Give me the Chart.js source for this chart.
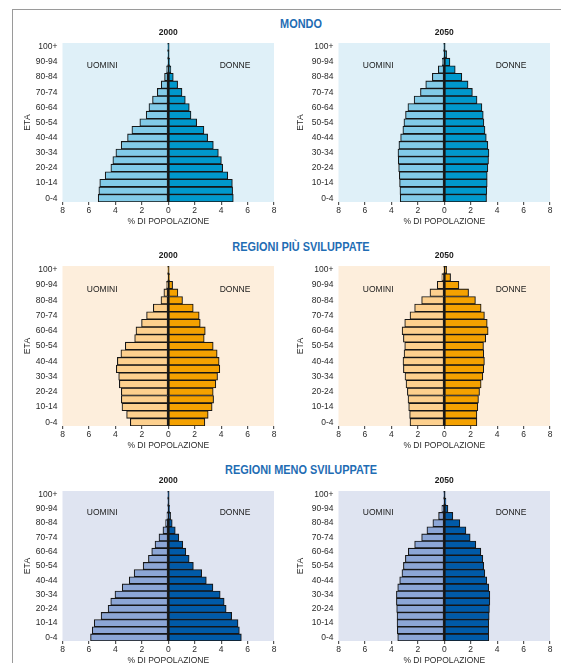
<!DOCTYPE html>
<html>
<head>
<meta charset="utf-8">
<script src="https://cdn.jsdelivr.net/npm/chart.js@4.4.1/dist/chart.umd.min.js"></script>
<style>
  body { margin: 0; background: #fff; }
  #page { position: relative; width: 561px; height: 663px; overflow: hidden; }
  #frame { position: absolute; left: 12px; top: 9px; right: -5px; bottom: -5px;
           border-left: 1px solid #9a9a9a; border-top: 1px solid #9a9a9a; }
  .region { position: absolute; left: 100px; width: 402px; text-align: center;
            font: bold 13px 'Liberation Sans', Arial, sans-serif;
            color: #1f6db4; line-height: 14px; transform: scaleX(0.84); }
  canvas { position: absolute; }
</style>
</head>
<body>
<div id="page">
  <div id="frame"></div>
  <div class="region" style="top:17px">MONDO</div>
  <div class="region" style="top:240px">REGIONI PIÙ SVILUPPATE</div>
  <div class="region" style="top:463px">REGIONI MENO SVILUPPATE</div>
  <canvas id="mondo2000"></canvas>
  <canvas id="mondo2050"></canvas>
  <canvas id="piu2000"></canvas>
  <canvas id="piu2050"></canvas>
  <canvas id="meno2000"></canvas>
  <canvas id="meno2050"></canvas>
</div>
<script>
const ageGroups = ['0-4', '5-9', '10-14', '15-19', '20-24', '25-29', '30-34', '35-39', '40-44', '45-49',
  '50-54', '55-59', '60-64', '65-69', '70-74', '75-79', '80-84', '85-89', '90-94', '95-99', '100+'];
const xTicks = [-8, -6, -4, -2, 0, 2, 4, 6, 8];

// % di popolazione, from 0-4 up to 100+
const mondo2000Men = [5.3, 5.25, 5.18, 4.77, 4.34, 4.19, 3.96, 3.56, 3.08, 2.75, 2.15, 1.67, 1.46, 1.19, 0.83, 0.53, 0.28, 0.13, 0.05, 0.03, 0.01];
const mondo2000Women = [4.92, 4.87, 4.85, 4.5, 4.12, 4.02, 3.79, 3.41, 2.98, 2.7, 2.15, 1.72, 1.59, 1.29, 1.04, 0.71, 0.38, 0.2, 0.1, 0.05, 0.02];
const mondo2050Men = [3.33, 3.35, 3.38, 3.4, 3.45, 3.48, 3.5, 3.43, 3.3, 3.13, 3.05, 2.93, 2.75, 2.28, 1.8, 1.4, 0.9, 0.45, 0.15, 0.05, 0.01];
const mondo2050Women = [3.2, 3.22, 3.25, 3.25, 3.3, 3.35, 3.38, 3.3, 3.18, 3.08, 3.0, 2.95, 2.85, 2.48, 2.13, 1.8, 1.33, 0.83, 0.43, 0.18, 0.05];
const piu2000Men = [2.87, 3.15, 3.5, 3.55, 3.55, 3.7, 3.75, 3.93, 3.85, 3.58, 3.25, 2.54, 2.44, 2.02, 1.64, 1.13, 0.55, 0.33, 0.13, 0.03, 0.01];
const piu2000Women = [2.77, 3.02, 3.32, 3.43, 3.4, 3.6, 3.73, 3.9, 3.85, 3.7, 3.4, 2.72, 2.8, 2.42, 2.34, 1.89, 1.08, 0.73, 0.33, 0.1, 0.03];
const piu2050Men = [2.59, 2.62, 2.69, 2.74, 2.79, 2.89, 2.97, 3.09, 3.12, 3.04, 2.99, 3.09, 3.19, 2.99, 2.59, 2.24, 1.71, 1.08, 0.53, 0.18, 0.05];
const piu2050Women = [2.47, 2.47, 2.54, 2.59, 2.67, 2.79, 2.92, 2.99, 3.04, 2.99, 2.97, 3.14, 3.32, 3.25, 3.04, 2.79, 2.36, 1.84, 1.11, 0.48, 0.18];
const meno2000Men = [5.88, 5.75, 5.6, 5.08, 4.55, 4.35, 4.03, 3.48, 2.95, 2.58, 1.9, 1.5, 1.25, 1.0, 0.7, 0.4, 0.2, 0.1, 0.05, 0.02, 0.01];
const meno2000Women = [5.53, 5.38, 5.28, 4.8, 4.38, 4.23, 3.93, 3.38, 2.88, 2.53, 1.9, 1.58, 1.33, 1.1, 0.8, 0.53, 0.3, 0.18, 0.1, 0.05, 0.02];
const meno2050Men = [3.52, 3.55, 3.57, 3.57, 3.6, 3.62, 3.62, 3.52, 3.37, 3.2, 3.09, 2.94, 2.72, 2.24, 1.71, 1.31, 0.86, 0.43, 0.18, 0.05, 0.02];
const meno2050Women = [3.37, 3.37, 3.37, 3.4, 3.42, 3.45, 3.45, 3.37, 3.22, 3.07, 2.99, 2.92, 2.77, 2.39, 1.96, 1.64, 1.18, 0.65, 0.28, 0.13, 0.05];

const FONT = "'Liberation Sans', Arial, sans-serif";
Chart.defaults.font.family = FONT;
Chart.defaults.color = '#2a2a2a';

const palettes = {
  mondo: { bg: '#dff0f8', men: '#82cbe8', women: '#0098cc' },
  piu: { bg: '#fdeedc', men: '#fdd08e', women: '#f4a100' },
  meno: { bg: '#dfe4f1', men: '#8ca6d6', women: '#005aa8' }
};

const plotBackground = {
  id: 'plotBackground',
  beforeDraw(chart, args, opts) {
    const { ctx, chartArea: a } = chart;
    ctx.save();
    ctx.fillStyle = opts.color;
    ctx.fillRect(a.left, a.top, a.right - a.left, a.bottom - a.top);
    ctx.restore();
  }
};

const pyramidLabels = {
  id: 'pyramidLabels',
  afterDraw(chart, args, opts) {
    const { ctx, chartArea: a, scales: { x } } = chart;
    ctx.save();
    ctx.fillStyle = '#1a1a1a';
    ctx.textAlign = 'center';
    ctx.textBaseline = 'middle';
    ctx.font = 'bold 8.5px ' + FONT;
    ctx.fillText(opts.year, x.getPixelForValue(0), a.top - 10);
    ctx.font = '8.5px ' + FONT;
    const y = a.top + (a.bottom - a.top) * 0.145;
    ctx.fillText('UOMINI', x.getPixelForValue(-5), y);
    ctx.fillText('DONNE', x.getPixelForValue(5.05), y);
    ctx.restore();
  }
};

const drawPyramid = (id, box, men, women, colors, year) => {
  const canvas = document.getElementById(id);
  const top = box.top - 20, left = box.left - box.yAxisWidth;
  const width = box.right + 7 - left, height = box.bottom + 25 - top;
  canvas.style.left = left + 'px';
  canvas.style.top = top + 'px';
  canvas.style.width = width + 'px';
  canvas.style.height = height + 'px';
  canvas.width = width;
  canvas.height = height;

  const barStyle = {
    borderColor: '#161616', borderWidth: 1.1, borderSkipped: false,
    barPercentage: 1, categoryPercentage: 1
  };

  new Chart(canvas, {
    type: 'bar',
    data: {
      labels: ageGroups,
      datasets: [
        { label: 'UOMINI', data: men.map(v => -v), backgroundColor: colors.men, ...barStyle },
        { label: 'DONNE', data: women, backgroundColor: colors.women, ...barStyle }
      ]
    },
    options: {
      indexAxis: 'y',
      responsive: false,
      animation: false,
      layout: { padding: { top: 20, right: 7, left: 0, bottom: 0 } },
      plugins: {
        legend: { display: false },
        tooltip: { enabled: false },
        plotBackground: { color: colors.bg },
        pyramidLabels: { year: year }
      },
      scales: {
        x: {
          stacked: true, min: xTicks[0], max: xTicks[xTicks.length - 1],
          afterBuildTicks: scale => { scale.ticks = xTicks.map(v => ({ value: v })); },
          ticks: { callback: v => Math.abs(v), padding: 1, maxRotation: 0, font: { size: 8.5 }, color: '#2a2a2a' },
          grid: {
            drawOnChartArea: true, drawTicks: true, tickLength: 3, tickColor: '#555',
            color: c => (c.tick && c.tick.value === 0 ? '#161616' : 'rgba(0,0,0,0)'), lineWidth: 1.2
          },
          border: { display: false },
          title: { display: true, text: '% DI POPOLAZIONE', font: { size: 8.5 }, padding: 0, color: '#2a2a2a' },
          afterFit: scale => { scale.height = 25; }
        },
        y: {
          stacked: true, reverse: true,
          ticks: { autoSkip: false, callback: (v, i) => (i % 2 === 0 ? ageGroups[i] : ''), font: { size: 8.5 }, padding: 5, color: '#2a2a2a' },
          grid: { display: false, drawTicks: false, tickLength: 0 },
          border: { display: false },
          title: { display: true, text: 'ETÀ', font: { size: 8.5 }, padding: 0, color: '#2a2a2a' },
          afterFit: scale => { scale.width = box.yAxisWidth; }
        }
      }
    },
    plugins: [plotBackground, pyramidLabels]
  });
};

const leftBox = (top, bottom) => ({ left: 62, right: 274, top, bottom, yAxisWidth: 39.5 });
const rightBox = (top, bottom) => ({ left: 338, right: 550, top, bottom, yAxisWidth: 42.5 });

drawPyramid('mondo2000', leftBox(43, 202), mondo2000Men, mondo2000Women, palettes.mondo, '2000');
drawPyramid('mondo2050', rightBox(43, 202), mondo2050Men, mondo2050Women, palettes.mondo, '2050');
drawPyramid('piu2000', leftBox(266, 426), piu2000Men, piu2000Women, palettes.piu, '2000');
drawPyramid('piu2050', rightBox(266, 426), piu2050Men, piu2050Women, palettes.piu, '2050');
drawPyramid('meno2000', leftBox(490.5, 641), meno2000Men, meno2000Women, palettes.meno, '2000');
drawPyramid('meno2050', rightBox(490.5, 641), meno2050Men, meno2050Women, palettes.meno, '2050');
</script>
</body>
</html>
